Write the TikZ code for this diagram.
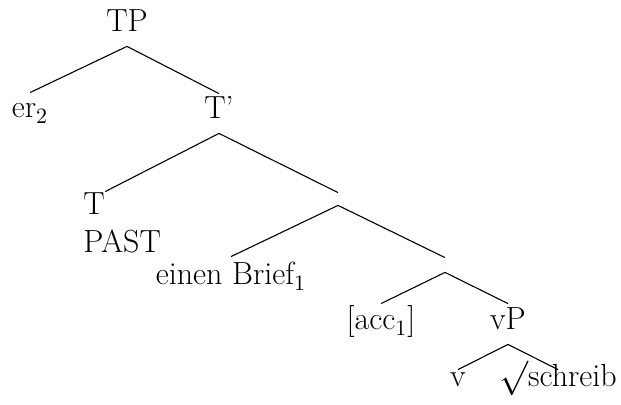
\documentclass[tikz,border=0pt]{standalone}
\begin{document}
\begin{tikzpicture}[x=0.5pt,y=-0.5pt,
  lbl/.style={inner sep=0pt, anchor=base, text height=12.5pt, text depth=7pt, font=\fontsize{16}{19}\selectfont},
  branch/.style={inner sep=0pt, minimum width=0pt},
  edge/.style={line width=0.55pt}]
\useasboundingbox (0,0) rectangle (621,405);
\node[lbl] (TP) at (127,32) {TP};
\node[lbl] (er) at (30,118) {er$_2$};
\node[lbl] (Tbar) at (219,119) {T’};
\node[lbl, anchor=base west, text height=11.5pt] (T) at (83,215) {T};
\node[lbl, anchor=base west] (past) at (83,253) {PAST};
\node[branch, minimum height=6pt] (n1) at (338,199) {};
\node[lbl, text height=14pt] (eB) at (231,285) {einen Brief$_1$};
\node[branch, minimum height=7pt] (n2) at (445,265) {};
\node[lbl, text height=13pt] (acc) at (381,330) {[acc$_1$]};
\node[lbl, text height=13pt] (vP) at (508,330) {vP};
\node[lbl, text height=8.5pt] (v) at (458,387) {v};
\node[lbl, text height=8.5pt] (sch) at (558,387) {$\surd$schreib};
\draw[edge] (TP.south) -- (er.north);
\draw[edge] (TP.south) -- (Tbar.north);
\draw[edge] (Tbar.south) -- (T.north east);
\draw[edge] (Tbar.south) -- (n1.north);
\draw[edge] (n1.south) -- (eB.north);
\draw[edge] (n1.south) -- (n2.north);
\draw[edge] (n2.south) -- (acc.north);
\draw[edge] (n2.south) -- (vP.north);
\draw[edge] (vP.south) -- (v.north);
\draw[edge] (vP.south) -- (sch.north);
\end{tikzpicture}
\end{document}
